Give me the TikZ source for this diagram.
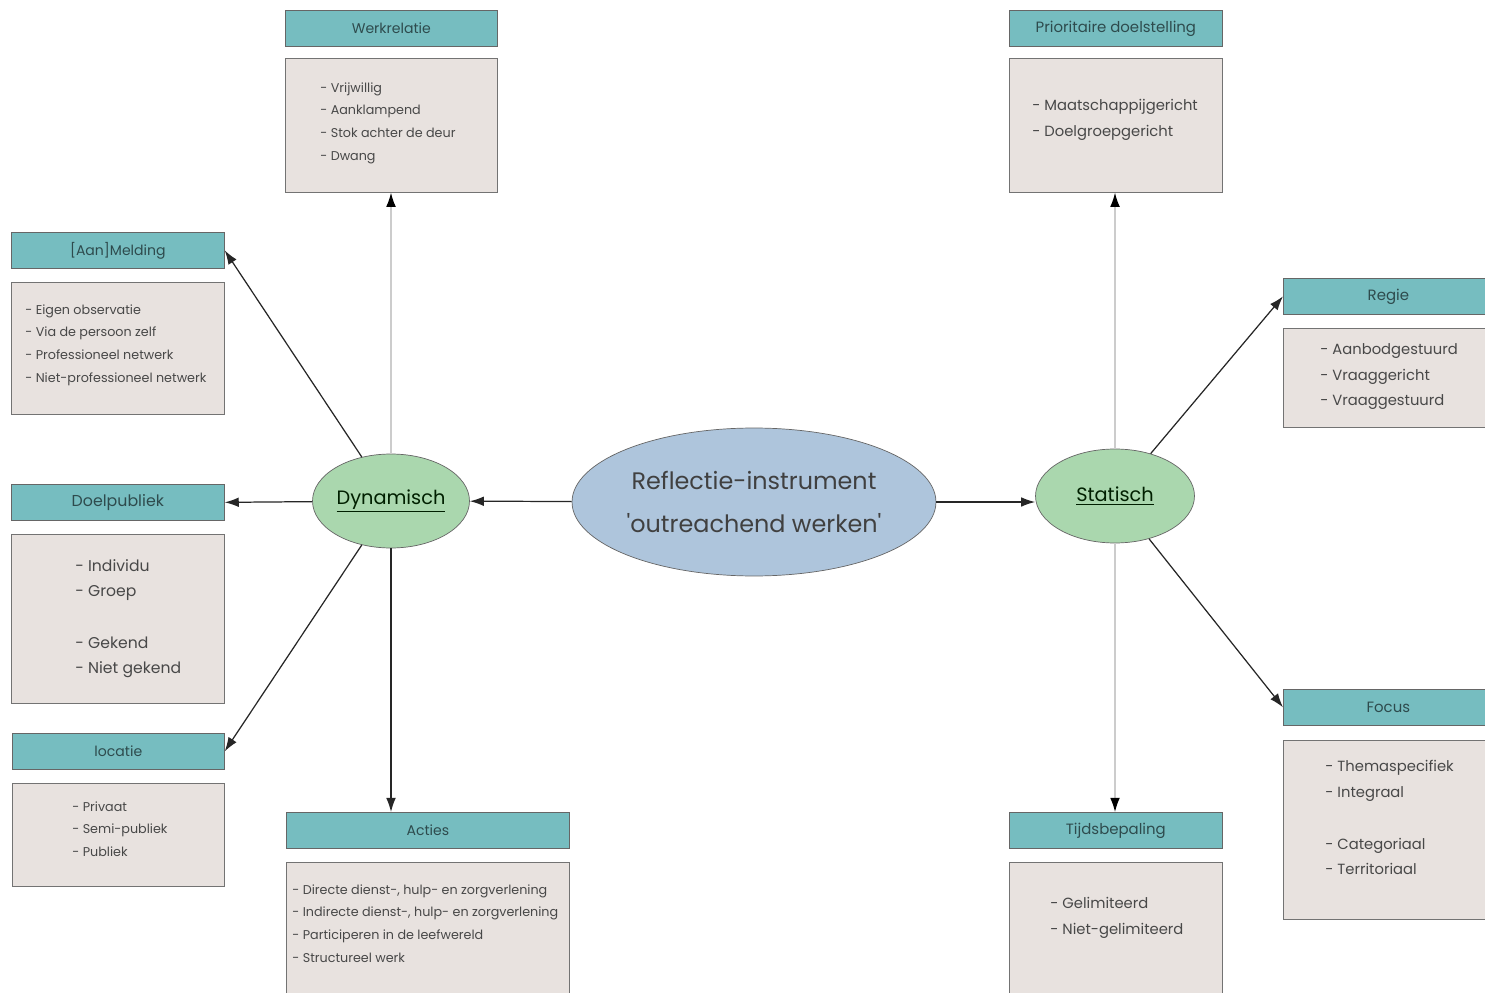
\documentclass[tikz,border=0pt]{standalone}
\usepackage{fontspec}
\setmainfont{Poppins}
\usetikzlibrary{arrows.meta,shapes.geometric}

\definecolor{kopkleur}{HTML}{76BDC0}
\definecolor{vakkleur}{HTML}{E8E2DF}
\definecolor{kernkleur}{HTML}{AEC5DC}
\definecolor{groenkleur}{HTML}{AAD7AE}
\definecolor{koptekst}{HTML}{2E4B4D}
\definecolor{lijsttekst}{HTML}{484848}

\begin{document}
\begin{tikzpicture}[x=0.02cm,y=-0.02cm,
    kopbox/.style={draw=black!60,fill=kopkleur,text=koptekst,anchor=north west,
        minimum width=#1*0.02cm,minimum height=0.72cm,inner sep=0,
        font=\fontsize{8}{10}\selectfont},
    vakbox/.style 2 args={draw=black!55,fill=vakkleur,anchor=north west,
        minimum width=#1*0.02cm,minimum height=#2*0.02cm,inner sep=0},
    lijst/.style={anchor=north west,align=left,inner sep=0,text=lijsttekst,
        font=\fontsize{7.25}{12.9}\selectfont},
    grotelijst/.style={lijst,font=\fontsize{8.4}{14.7}\selectfont},
    pijl/.style={draw=black!85,line width=0.7pt,-{Latex[length=8pt,width=5.5pt]}},
    grijspijl/.style={draw=black!20,line width=0.7pt,-{Latex[length=8pt,width=5.5pt,black]}}]
\clip (0,0) rectangle (1485,993);
\fill[white] (0,0) rectangle (1485,993);

% kern
\node[ellipse,draw=black!60,fill=kernkleur,minimum width=7.28cm,minimum height=2.96cm,
      inner sep=0,align=center,text=black!75,font=\fontsize{13.6}{25}\selectfont]
      (kern) at (754,502) {Reflectie-instrument\\\textquotesingle outreachend werken\textquotesingle};
\node[ellipse,draw=black!60,fill=groenkleur,minimum width=3.14cm,minimum height=1.88cm,
      inner sep=0,text=black!70!green!40!black,font=\fontsize{11}{14}\selectfont]
      (dyn) at (391,501) {\underline{Dynamisch}};
\node[ellipse,draw=black!60,fill=groenkleur,minimum width=3.18cm,minimum height=1.88cm,
      inner sep=0,text=black!70!green!40!black,font=\fontsize{11}{14}\selectfont]
      (stat) at (1115,496) {\underline{Statisch}};

% links
\node[kopbox=213] (meld) at (11,232) {{[}Aan{]}Melding};
\node[vakbox={213}{132}] (meldvak) at (11,282) {};
\node[lijst] (meldlijst) at (25,304) {- Eigen observatie\\- Via de persoon zelf\\- Professioneel netwerk\\- Niet-professioneel netwerk};

\node[kopbox=213,font=\fontsize{9}{11}\selectfont] (doel) at (11,484) {Doelpubliek};
\node[vakbox={213}{169}] (doelvak) at (11,534) {};
\node[lijst,font=\fontsize{8.9}{14.6}\selectfont] (doellijst) at (75,559) {- Individu\\- Groep\\[14.6pt]- Gekend\\- Niet gekend};

\node[kopbox=212] (loc) at (12,733) {locatie};
\node[vakbox={212}{103}] (locvak) at (12,783) {};
\node[lijst] (loclijst) at (72,801) {- Privaat\\- Semi-publiek\\- Publiek};

% boven en onder
\node[kopbox=212] (werk) at (285,10) {Werkrelatie};
\node[vakbox={212}{134}] (werkvak) at (285,58) {};
\node[lijst] (werklijst) at (320,82) {- Vrijwillig\\- Aanklampend\\- Stok achter de deur\\- Dwang};

\node[kopbox=283] (actie) at (286,812) {Acties};
\node[vakbox={283}{160}] (actievak) at (286,862) {};
\node[lijst] (actielijst) at (292,884) {- Directe dienst-, hulp- en zorgverlening\\- Indirecte dienst-, hulp- en zorgverlening\\- Participeren in de leefwereld\\- Structureel werk};

\node[kopbox=213,font=\fontsize{8.5}{10}\selectfont] (prio) at (1009,10) {Prioritaire doelstelling};
\node[vakbox={213}{134}] (priovak) at (1009,58) {};
\node[grotelijst] (priolijst) at (1032,99) {- Maatschappijgericht\\- Doelgroepgericht};

\node[kopbox=213,font=\fontsize{8.5}{10}\selectfont] (tijd) at (1009,812) {Tijdsbepaling};
\node[vakbox={213}{160}] (tijdvak) at (1009,862) {};
\node[grotelijst] (tijdlijst) at (1050,897) {- Gelimiteerd\\- Niet-gelimiteerd};

% rechts
\node[kopbox=230,font=\fontsize{8.5}{10}\selectfont] (regie) at (1283,278) {Regie\hspace*{0.4cm}};
\node[vakbox={230}{99}] (regievak) at (1283,328) {};
\node[grotelijst] (regielijst) at (1320,343) {- Aanbodgestuurd\\- Vraaggericht\\- Vraaggestuurd};

\node[kopbox=230,font=\fontsize{8.5}{10}\selectfont] (focus) at (1283,689) {Focus\hspace*{0.4cm}};
\node[vakbox={230}{179}] (focusvak) at (1283,740) {};
\node[grotelijst] (focuslijst) at (1325,760) {- Themaspecifiek\\- Integraal\\[14.7pt]- Categoriaal\\- Territoriaal};

% verbindingen
\draw[pijl] (kern) -- (dyn);
\draw[pijl] (kern.east) -- (stat.west |- kern.east);
\draw[pijl] (dyn) -- (meld.east);
\draw[pijl] (dyn) -- (doel.east);
\draw[pijl] (dyn) -- (loc.east);
\draw[pijl] (dyn) -- (dyn |- actie.north);
\draw[grijspijl] (dyn) -- (dyn |- werkvak.south);
\draw[grijspijl] (stat) -- (stat |- priovak.south);
\draw[grijspijl] (stat) -- (stat |- tijd.north);
\draw[pijl] (stat) -- (regie.west);
\draw[pijl] (stat) -- (focus.west);
\end{tikzpicture}
\end{document}
